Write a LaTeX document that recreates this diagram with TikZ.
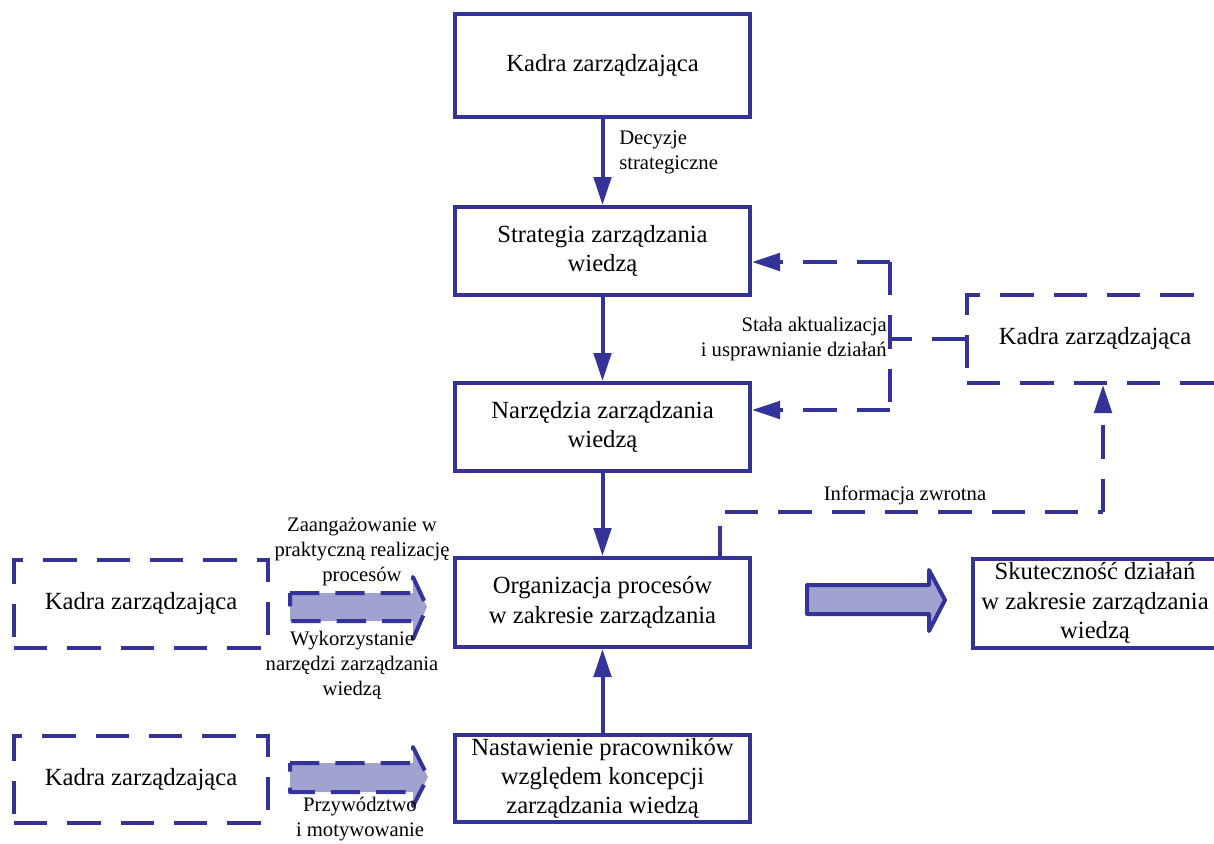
\documentclass[tikz,border=0pt]{standalone}
\usepackage{fontspec}
\setmainfont{Liberation Serif}
\usetikzlibrary{arrows.meta,calc}
\definecolor{navy}{RGB}{51,51,153}
\definecolor{lilac}{RGB}{160,163,208}
\newcommand\boxfont{\fontsize{18.5}{22}\selectfont}
\newcommand\lblfont{\fontsize{15.5}{18.75}\selectfont}
\begin{document}
\begin{tikzpicture}[x=0.75pt,y=-0.75pt,
  box/.style={draw=navy, line width=3pt, align=center, font=\boxfont,
    inner sep=0pt, minimum width=221.25pt, minimum height=66pt},
  dbox/.style={box, dash pattern=on 25pt off 15pt},
  lbl/.style={font=\lblfont, inner sep=0pt},
  conn/.style={draw=navy, line width=3pt, -{Triangle[length=21pt,width=13pt]}},
  dconn/.style={conn, dash pattern=on 25pt off 15pt},
  dline/.style={draw=navy, line width=3pt, dash pattern=on 25pt off 15pt},
  fat/.style={fill=lilac, draw=navy, line width=3pt, line join=round},
  dfat/.style={fat, dash pattern=on 22pt off 12pt}]
\clip (0,0) rectangle (1214,843);

% main chain
\node[box, minimum height=77.25pt] (top) at (602.5,65.5) {Kadra zarządzająca};
\node[box] (strat) at (602.5,251) {Strategia zarządzania\\wiedzą};
\node[box] (narz) at (602.5,427) {Narzędzia zarządzania\\wiedzą};
\node[box, minimum height=66.75pt] (org) at (602.5,602.5) {Organizacja procesów\\w zakresie zarządzania};
\node[box, minimum height=65.25pt] (nast) at (602.5,778.5) {Nastawienie pracowników\\względem koncepcji\\zarządzania wiedzą};

% side boxes
\node[dbox, minimum width=192pt] (kadraR) at (1095,339) {Kadra zarządzająca};
\node[box, minimum width=183pt, minimum height=66.75pt] (skut) at (1095,603) {Skuteczność działań\\w zakresie zarządzania\\wiedzą};
\node[dbox, minimum width=190.5pt] (kadraL1) at (141,604) {Kadra zarządzająca};
\node[dbox, minimum width=190.5pt, minimum height=65.25pt] (kadraL2) at (141,779.5) {Kadra zarządzająca};

% vertical connectors
\draw[conn] (top) -- (strat);
\draw[conn] (strat) -- (narz);
\draw[conn] (narz) -- (org);
\draw[conn] (nast) -- (org);
\node[lbl, anchor=west, align=left] (decl) at (619,152.5) {Decyzje\\strategiczne};

% continuous improvement loop
\coordinate (saMid) at (890,339);
\coordinate (saTop) at (890,262);
\coordinate (saBot) at (890,410);
\draw[dline] (kadraR.west) -- (saMid);
\draw[dline] (saTop) -- (saBot);
\draw[dconn] (saTop) -- (saTop -| strat.east);
\draw[dconn] (saBot) -- (saBot -| narz.east);
\node[lbl, anchor=east, align=right] (sal) at (887,339.5) {Stała aktualizacja\\i usprawnianie działań};

% feedback
\coordinate (fbA) at (720,512);
\coordinate (fbB) at (1103,512);
\draw[draw=navy, line width=3pt] (org.north -| fbA) -- ++(0,-30);
\draw[dline] (725,512) -- (fbB);
\draw[dconn] (fbB) -- (fbB |- kadraR.south);
\node[lbl] (fbl) at (905,495) {Informacja zwrotna};

% broad arrows
\draw[dfat] (290,593) -- (413,593) -- (413,577) -- (427,607) -- (413,639) -- (413,621) -- (290,621) -- cycle;
\draw[dfat] (290,763) -- (413,763) -- (413,747) -- (428,777) -- (413,806) -- (413,792) -- (290,792) -- cycle;
\draw[fat] (807,585) -- (929,585) -- (929,570) -- (945,600) -- (929,631) -- (929,614) -- (807,614) -- cycle;

\node[lbl, align=center] (zl) at (362,552) {Zaangażowanie w\\praktyczną realizację\\procesów};
\node[lbl, align=center] (wl) at (352,665) {Wykorzystanie\\narzędzi zarządzania\\wiedzą};
\node[lbl, align=center] (pl) at (360,819) {Przywództwo\\i motywowanie};
\end{tikzpicture}
\end{document}
